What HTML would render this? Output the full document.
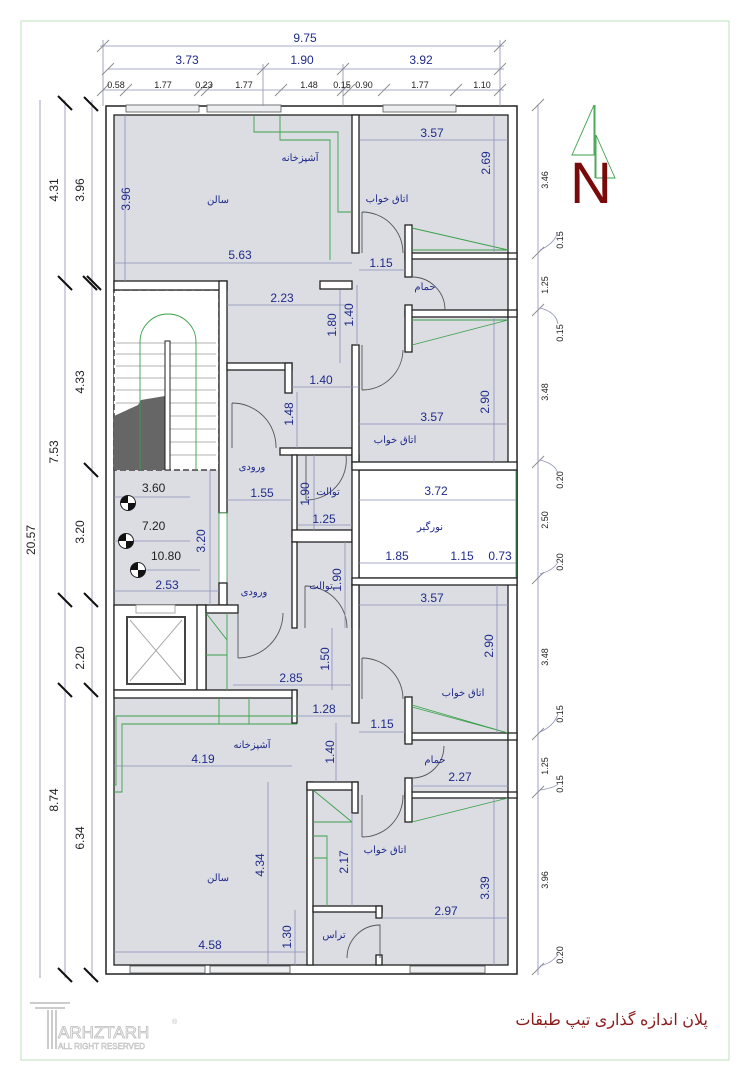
<!DOCTYPE html>
<html><head><meta charset="utf-8"><style>
html,body{margin:0;padding:0;background:#fff;width:749px;height:1080px;overflow:hidden}
svg{display:block}
.d{font-family:"Liberation Sans",sans-serif;font-size:12px;fill:#1f2a8a}
.k{font-family:"Liberation Sans",sans-serif;font-size:12px;fill:#222}
.s{font-family:"Liberation Sans",sans-serif;font-size:9px;fill:#222}
.r{font-family:"Liberation Sans","Noto Sans CJK SC",sans-serif;font-size:10px;fill:#1f2a8a}
.w{fill:#fff;stroke:#222;stroke-width:1.3}
.dl{stroke:#8a8fb8;stroke-width:0.8;fill:none}
.t{stroke:#666;stroke-width:0.8}
.g{stroke:#3aa04a;stroke-width:0.9;fill:none}
.dr{stroke:#555;stroke-width:0.9;fill:none}
</style></head><body>
<svg width="749" height="1080" viewBox="0 0 749 1080">
<rect x="21" y="21" width="708" height="1039" fill="none" stroke="#bfe0bf" stroke-width="1"/>

<!-- building -->
<rect x="106" y="106" width="411" height="868" fill="#fff" stroke="#222" stroke-width="1.5"/>
<rect x="114" y="115" width="394" height="850" fill="#dcdde3" stroke="#222" stroke-width="1.3"/>

<!-- windows top/bottom -->
<g fill="#eceef0" stroke="#555" stroke-width="0.8">
<rect x="126" y="105" width="73" height="7"/><rect x="207" y="105" width="74" height="7"/><rect x="383" y="105" width="73" height="7"/>
<rect x="130" y="966" width="75" height="7"/><rect x="210" y="966" width="80" height="7"/><rect x="410" y="966" width="75" height="7"/>
<rect x="437" y="463" width="53" height="6"/><rect x="437" y="579" width="53" height="6"/>
</g>

<!-- stair -->
<rect x="114" y="290" width="105" height="180" fill="#fff" stroke="#222" stroke-width="1.3" stroke-dasharray="6,3"/>
<g stroke="#999" stroke-width="0.8">
<line x1="116" y1="343" x2="216" y2="343"/><line x1="116" y1="354" x2="216" y2="354"/><line x1="116" y1="366" x2="216" y2="366"/><line x1="116" y1="378" x2="216" y2="378"/><line x1="116" y1="390" x2="216" y2="390"/><line x1="116" y1="403" x2="216" y2="403"/><line x1="116" y1="416" x2="216" y2="416"/><line x1="116" y1="429" x2="216" y2="429"/><line x1="116" y1="442" x2="216" y2="442"/><line x1="116" y1="455" x2="216" y2="455"/>
</g>
<polygon points="114,416 138,405 141,400 165,396 165,470 114,470" fill="#666"/>
<rect x="165" y="341" width="5" height="129" fill="#fff" stroke="#222"/>
<path class="g" d="M140,470 V342 A28,28 0 0 1 196,342 V470"/>

<!-- landing / elevator -->
<rect x="114" y="605" width="92" height="85" fill="#fff" stroke="#222" stroke-width="1.3"/>
<rect x="136" y="605" width="39" height="8" fill="#fff" stroke="#888" stroke-width="0.7"/>
<rect x="127" y="617" width="58" height="67" fill="#fff" stroke="#444" stroke-width="2"/>
<line x1="130" y1="620" x2="182" y2="681" stroke="#aaa"/><line x1="182" y1="620" x2="130" y2="681" stroke="#aaa"/>

<!-- light well -->
<rect x="359" y="470" width="158" height="108" fill="#fff" stroke="#222" stroke-width="1.3"/>
<line x1="516" y1="470" x2="516" y2="578" class="g"/>

<!-- walls -->
<rect class="w" x="114" y="281" width="113" height="9"/>
<rect class="w" x="219" y="281" width="8" height="232"/>
<rect x="219" y="513" width="8" height="70" fill="#fff" stroke="#3aa04a" stroke-width="0.8"/>
<rect class="w" x="219" y="583" width="8" height="22"/>
<rect class="w" x="197" y="605" width="9" height="85"/>
<rect class="w" x="206" y="605" width="32" height="8"/>
<rect class="w" x="114" y="690" width="183" height="8"/>
<rect class="w" x="292" y="690" width="5" height="33"/>
<rect class="w" x="227" y="363" width="65" height="7"/>
<rect class="w" x="285" y="363" width="7" height="30"/>
<rect class="w" x="280" y="448" width="72" height="7"/>
<rect class="w" x="292" y="455" width="5" height="82"/>
<rect class="w" x="292" y="530" width="60" height="12"/>
<rect class="w" x="292" y="542" width="5" height="86"/>
<rect class="w" x="352" y="455" width="7" height="173"/>
<rect class="w" x="352" y="115" width="7" height="138"/>
<rect class="w" x="320" y="281" width="32" height="8"/>
<rect class="w" x="352" y="345" width="7" height="117"/>
<rect class="w" x="405" y="253" width="103" height="6"/>
<rect class="w" x="405" y="225" width="7" height="52"/>
<rect class="w" x="405" y="310" width="103" height="7"/>
<rect class="w" x="405" y="305" width="7" height="47"/>
<rect class="w" x="352" y="462" width="165" height="8"/>
<rect class="w" x="352" y="578" width="165" height="7"/>
<rect class="w" x="352" y="585" width="7" height="138"/>
<rect class="w" x="405" y="733" width="103" height="7"/>
<rect class="w" x="405" y="697" width="7" height="47"/>
<rect class="w" x="405" y="792" width="103" height="6"/>
<rect class="w" x="405" y="778" width="7" height="44"/>
<rect class="w" x="307" y="782" width="6" height="183"/>
<rect class="w" x="307" y="782" width="51" height="8"/>
<rect class="w" x="352" y="782" width="6" height="31"/>
<rect class="w" x="313" y="906" width="69" height="6"/>
<rect class="w" x="376" y="906" width="6" height="12"/>
<rect class="w" x="376" y="955" width="6" height="10"/>
<rect class="w" x="508" y="253" width="9" height="6"/>
<rect class="w" x="508" y="310" width="9" height="7"/>
<rect class="w" x="508" y="733" width="9" height="7"/>
<rect class="w" x="508" y="792" width="9" height="6"/>

<!-- doors -->
<path class="dr" d="M362,212 V253 M362,212 A41,41 0 0 1 403,253"/>
<path class="dr" d="M412,277 A33,33 0 0 1 445,310"/>
<path class="dr" d="M362,390 V345 M362,390 A41,41 0 0 0 403,350"/>
<path class="dr" d="M232,403 V448 M232,403 A44,44 0 0 1 276,448"/>
<path class="dr" d="M306,500 V455 M306,500 A40,40 0 0 0 346,455"/>
<path class="dr" d="M238,658 V613 M238,658 A45,45 0 0 0 283,613"/>
<path class="dr" d="M305,586 V628 M305,586 A42,42 0 0 1 347,628"/>
<path class="dr" d="M362,658 V699 M362,658 A41,41 0 0 1 403,699"/>
<path class="dr" d="M412,778 A32,32 0 0 0 444,746"/>
<path class="dr" d="M362,837 V795 M362,837 A41,41 0 0 0 403,795"/>
<path class="dr" d="M380,958 V925 A33,33 0 0 0 347,958"/>

<!-- green lines -->
<path class="g" d="M254,116 V132 H338 V212 H352"/>
<path class="g" d="M280,116 V140 H330 V260"/>
<polyline class="g" points="412,228 508,250 412,250"/>
<polyline class="g" points="412,345 508,320 412,320"/>
<polyline class="g" points="412,705 508,733 412,707"/>
<polyline class="g" points="412,822 508,798 412,822"/>
<path class="g" d="M114,792 H122 V724 H297 M114,785 H116 V716 H297 M219,698 V724 M249,698 V724"/>
<path class="g" d="M206,613 L227,640 M227,613 V690 M206,655 H227"/>
<path class="g" d="M313,790 L352,822 M313,822 H352 M313,836 H327 V858 H313 M327,858 V906"/>

<!-- dimension lines -->
<g class="dl">
<line x1="100" y1="46" x2="504" y2="46"/><line x1="108" y1="69" x2="504" y2="69"/><line x1="103" y1="90" x2="504" y2="90"/>
<line x1="103" y1="40" x2="103" y2="106"/><line x1="500" y1="40" x2="500" y2="106"/><line x1="263" y1="64" x2="263" y2="106"/><line x1="343" y1="64" x2="343" y2="106"/>
<line x1="40" y1="100" x2="40" y2="978"/><line x1="65" y1="100" x2="65" y2="978"/><line x1="92" y1="100" x2="92" y2="978"/>
<line x1="538" y1="105" x2="538" y2="975"/>
<line x1="125" y1="115" x2="125" y2="281"/><line x1="114" y1="263" x2="352" y2="263"/>
<line x1="360" y1="140" x2="508" y2="140"/><line x1="494" y1="115" x2="494" y2="253"/>
<line x1="359" y1="270" x2="405" y2="270"/><line x1="227" y1="305" x2="352" y2="305"/>
<line x1="340" y1="290" x2="340" y2="363"/><line x1="357" y1="285" x2="357" y2="345"/>
<line x1="292" y1="387" x2="359" y2="387"/><line x1="297" y1="392" x2="297" y2="448"/>
<line x1="359" y1="424" x2="508" y2="424"/><line x1="494" y1="317" x2="494" y2="462"/>
<line x1="227" y1="500" x2="292" y2="500"/><line x1="314" y1="455" x2="314" y2="530"/><line x1="297" y1="525" x2="352" y2="525"/>
<line x1="359" y1="500" x2="516" y2="500"/><line x1="359" y1="563" x2="516" y2="563"/>
<line x1="114" y1="591" x2="219" y2="591"/><line x1="210" y1="470" x2="210" y2="605"/>
<line x1="114" y1="497" x2="190" y2="497"/><line x1="114" y1="541" x2="190" y2="541"/><line x1="130" y1="570" x2="200" y2="570"/>
<line x1="345" y1="542" x2="345" y2="628"/><line x1="359" y1="605" x2="508" y2="605"/><line x1="497" y1="585" x2="497" y2="733"/>
<line x1="233" y1="685" x2="352" y2="685"/><line x1="332" y1="628" x2="332" y2="690"/>
<line x1="297" y1="716" x2="352" y2="716"/><line x1="359" y1="732" x2="405" y2="732"/><line x1="336" y1="723" x2="336" y2="782"/>
<line x1="114" y1="766" x2="292" y2="766"/><line x1="412" y1="786" x2="508" y2="786"/>
<line x1="268" y1="782" x2="268" y2="965"/><line x1="352" y1="813" x2="352" y2="906"/><line x1="494" y1="798" x2="494" y2="965"/>
<line x1="382" y1="918" x2="508" y2="918"/><line x1="114" y1="952" x2="307" y2="952"/><line x1="295" y1="910" x2="295" y2="965"/>
</g>
<!-- ticks -->
<g stroke="#888" stroke-width="0.9">
<line x1="97" y1="52" x2="109" y2="40"/><line x1="494" y1="52" x2="506" y2="40"/>
<line x1="102" y1="75" x2="114" y2="63"/><line x1="257" y1="75" x2="269" y2="63"/><line x1="337" y1="75" x2="349" y2="63"/><line x1="494" y1="75" x2="506" y2="63"/>
<line x1="97" y1="96" x2="109" y2="84"/><line x1="120" y1="96" x2="132" y2="84"/><line x1="194" y1="96" x2="206" y2="84"/><line x1="201" y1="96" x2="213" y2="84"/><line x1="275" y1="96" x2="287" y2="84"/><line x1="337" y1="96" x2="349" y2="84"/><line x1="343" y1="96" x2="355" y2="84"/><line x1="378" y1="96" x2="390" y2="84"/><line x1="450" y1="96" x2="462" y2="84"/><line x1="494" y1="96" x2="506" y2="84"/>
<line x1="532" y1="111" x2="544" y2="99"/><line x1="532" y1="259" x2="544" y2="247"/><line x1="532" y1="316" x2="544" y2="304"/><line x1="532" y1="468" x2="544" y2="456"/><line x1="532" y1="584" x2="544" y2="572"/><line x1="532" y1="740" x2="544" y2="728"/><line x1="532" y1="798" x2="544" y2="786"/><line x1="532" y1="975" x2="544" y2="963"/>
</g>
<g stroke="#111" stroke-width="2">
<line x1="58" y1="96" x2="72" y2="110"/><line x1="84" y1="97" x2="98" y2="111"/>
<line x1="58" y1="276" x2="72" y2="290"/><line x1="83" y1="276" x2="97" y2="290"/><line x1="87" y1="276" x2="101" y2="290"/>
<line x1="84" y1="463" x2="98" y2="477"/><line x1="58" y1="593" x2="72" y2="607"/><line x1="84" y1="593" x2="98" y2="607"/>
<line x1="58" y1="683" x2="72" y2="697"/><line x1="84" y1="683" x2="98" y2="697"/>
<line x1="58" y1="968" x2="72" y2="982"/><line x1="84" y1="968" x2="98" y2="982"/>
</g>

<!-- top dimension text -->
<text class="d" x="305" y="42" text-anchor="middle">9.75</text>
<text class="d" x="187" y="64" text-anchor="middle">3.73</text>
<text class="d" x="302" y="64" text-anchor="middle">1.90</text>
<text class="d" x="421" y="64" text-anchor="middle">3.92</text>
<g class="s" text-anchor="middle">
<text x="116" y="88">0.58</text><text x="163" y="88">1.77</text><text x="204" y="88">0.23</text><text x="244" y="88">1.77</text><text x="309" y="88">1.48</text><text x="342" y="88">0.15</text><text x="364" y="88">0.90</text><text x="420" y="88">1.77</text><text x="482" y="88">1.10</text>
</g>
<!-- left dims -->
<g class="k" text-anchor="middle" font-size="13">
<text transform="translate(58,190) rotate(-90)">4.31</text>
<text transform="translate(84,190) rotate(-90)">3.96</text>
<text transform="translate(84,382) rotate(-90)">4.33</text>
<text transform="translate(58,452) rotate(-90)">7.53</text>
<text transform="translate(35,540) rotate(-90)">20.57</text>
<text transform="translate(84,532) rotate(-90)">3.20</text>
<text transform="translate(84,658) rotate(-90)">2.20</text>
<text transform="translate(58,800) rotate(-90)">8.74</text>
<text transform="translate(84,838) rotate(-90)">6.34</text>
</g>
<!-- right dims -->
<g class="s" text-anchor="middle">
<text transform="translate(548,180) rotate(-90)">3.46</text>
<text transform="translate(548,285) rotate(-90)">1.25</text>
<text transform="translate(548,392) rotate(-90)">3.48</text>
<text transform="translate(548,520) rotate(-90)">2.50</text>
<text transform="translate(548,657) rotate(-90)">3.48</text>
<text transform="translate(548,766) rotate(-90)">1.25</text>
<text transform="translate(548,880) rotate(-90)">3.96</text>
<text transform="translate(563,240) rotate(-90)">0.15</text>
<text transform="translate(563,333) rotate(-90)">0.15</text>
<text transform="translate(563,480) rotate(-90)">0.20</text>
<text transform="translate(563,562) rotate(-90)">0.20</text>
<text transform="translate(563,714) rotate(-90)">0.15</text>
<text transform="translate(563,784) rotate(-90)">0.15</text>
<text transform="translate(563,955) rotate(-90)">0.20</text>
</g>
<g class="dl"><path d="M540,250 q14,-6 18,-18"/><path d="M540,308 q16,4 18,16"/><path d="M540,460 q16,4 18,14"/><path d="M540,574 q14,-4 18,-12"/><path d="M540,732 q14,-6 18,-18"/><path d="M540,790 q14,-2 18,-6"/><path d="M540,966 q14,-4 18,-12"/></g>

<!-- internal dims -->
<g class="d" text-anchor="middle">
<text x="432" y="137">3.57</text><text x="240" y="259">5.63</text><text x="381" y="267">1.15</text><text x="282" y="302">2.23</text>
<text x="321" y="384">1.40</text><text x="432" y="421">3.57</text><text x="262" y="497">1.55</text><text x="324" y="523">1.25</text>
<text x="436" y="495">3.72</text><text x="397" y="560">1.85</text><text x="462" y="560">1.15</text><text x="500" y="560">0.73</text>
<text x="167" y="589">2.53</text><text x="432" y="602">3.57</text><text x="291" y="682">2.85</text><text x="324" y="713">1.28</text>
<text x="382" y="728">1.15</text><text x="203" y="763">4.19</text><text x="460" y="781">2.27</text><text x="446" y="915">2.97</text><text x="210" y="949">4.58</text>
<text transform="translate(130,199) rotate(-90)">3.96</text>
<text transform="translate(490,163) rotate(-90)">2.69</text>
<text transform="translate(336,325) rotate(-90)">1.80</text>
<text transform="translate(353,315) rotate(-90)">1.40</text>
<text transform="translate(293,414) rotate(-90)">1.48</text>
<text transform="translate(489,402) rotate(-90)">2.90</text>
<text transform="translate(309,494) rotate(-90)">1.90</text>
<text transform="translate(205,541) rotate(-90)">3.20</text>
<text transform="translate(341,580) rotate(-90)">1.90</text>
<text transform="translate(493,646) rotate(-90)">2.90</text>
<text transform="translate(329,659) rotate(-90)">1.50</text>
<text transform="translate(334,752) rotate(-90)">1.40</text>
<text transform="translate(348,862) rotate(-90)">2.17</text>
<text transform="translate(264,865) rotate(-90)">4.34</text>
<text transform="translate(489,888) rotate(-90)">3.39</text>
<text transform="translate(291,937) rotate(-90)">1.30</text>
</g>
<!-- levels -->
<g>
<text x="142" y="492" class="k" font-size="14">3.60</text>
<text x="142" y="530" class="k" font-size="13">7.20</text>
<text x="151" y="560" class="k" font-size="13">10.80</text>
<g transform="translate(128,503)"><circle r="7.5" fill="#fff" stroke="#222"/><path d="M0,0 V-7.5 A7.5,7.5 0 0 0 -7.5,0Z M0,0 V7.5 A7.5,7.5 0 0 0 7.5,0Z" fill="#111"/></g>
<g transform="translate(126,541)"><circle r="7.5" fill="#fff" stroke="#222"/><path d="M0,0 V-7.5 A7.5,7.5 0 0 0 -7.5,0Z M0,0 V7.5 A7.5,7.5 0 0 0 7.5,0Z" fill="#111"/></g>
<g transform="translate(138,570)"><circle r="7.5" fill="#fff" stroke="#222"/><path d="M0,0 V-7.5 A7.5,7.5 0 0 0 -7.5,0Z M0,0 V7.5 A7.5,7.5 0 0 0 7.5,0Z" fill="#111"/></g>
</g>

<!-- room labels -->
<g class="r" text-anchor="middle">
<text x="218" y="203">سالن</text><text x="300" y="161">آشپزخانه</text><text x="387" y="202">اتاق خواب</text>
<text x="425" y="290">حمام</text><text x="395" y="443">اتاق خواب</text><text x="252" y="470">ورودی</text>
<text x="328" y="495">توالت</text><text x="430" y="530">نورگیر</text><text x="254" y="595">ورودی</text>
<text x="321" y="589">توالت</text><text x="463" y="696">اتاق خواب</text><text x="252" y="748">آشپزخانه</text>
<text x="435" y="763">حمام</text><text x="385" y="853">اتاق خواب</text><text x="218" y="881">سالن</text><text x="334" y="938">تراس</text>
</g>

<!-- north -->
<path class="g" d="M594,105 L572,155 H594 Z M596,135 L615,178 H596 Z M595,105 V178"/>
<text x="570" y="203" font-family="Liberation Sans,sans-serif" font-size="58" fill="#7a0a0a">N</text>

<!-- footer -->
<text x="708" y="1025" text-anchor="end" font-family="Liberation Sans,'Noto Sans CJK SC',sans-serif" font-size="16" fill="#8b1a1a">پلان اندازه گذاری تیپ طبقات</text>
<g fill="none" stroke="#bbb" stroke-width="1.5">
<line x1="30" y1="1003" x2="70" y2="1003"/><line x1="35" y1="1008" x2="65" y2="1008"/>
<line x1="48" y1="1010" x2="48" y2="1049"/><line x1="52" y1="1010" x2="52" y2="1049"/><line x1="56" y1="1010" x2="56" y2="1049"/>
</g>
<text x="58" y="1038" font-family="Liberation Sans,sans-serif" font-size="17" fill="#fff" stroke="#bbb" stroke-width="0.8">ARHZTARH</text>
<text x="58" y="1049" font-family="Liberation Sans,sans-serif" font-size="8" fill="#fff" stroke="#bbb" stroke-width="0.5">ALL RIGHT RESERVED</text>
<text x="172" y="1024" font-family="Liberation Sans,sans-serif" font-size="7" fill="#bbb">®</text>
</svg>
</body></html>
